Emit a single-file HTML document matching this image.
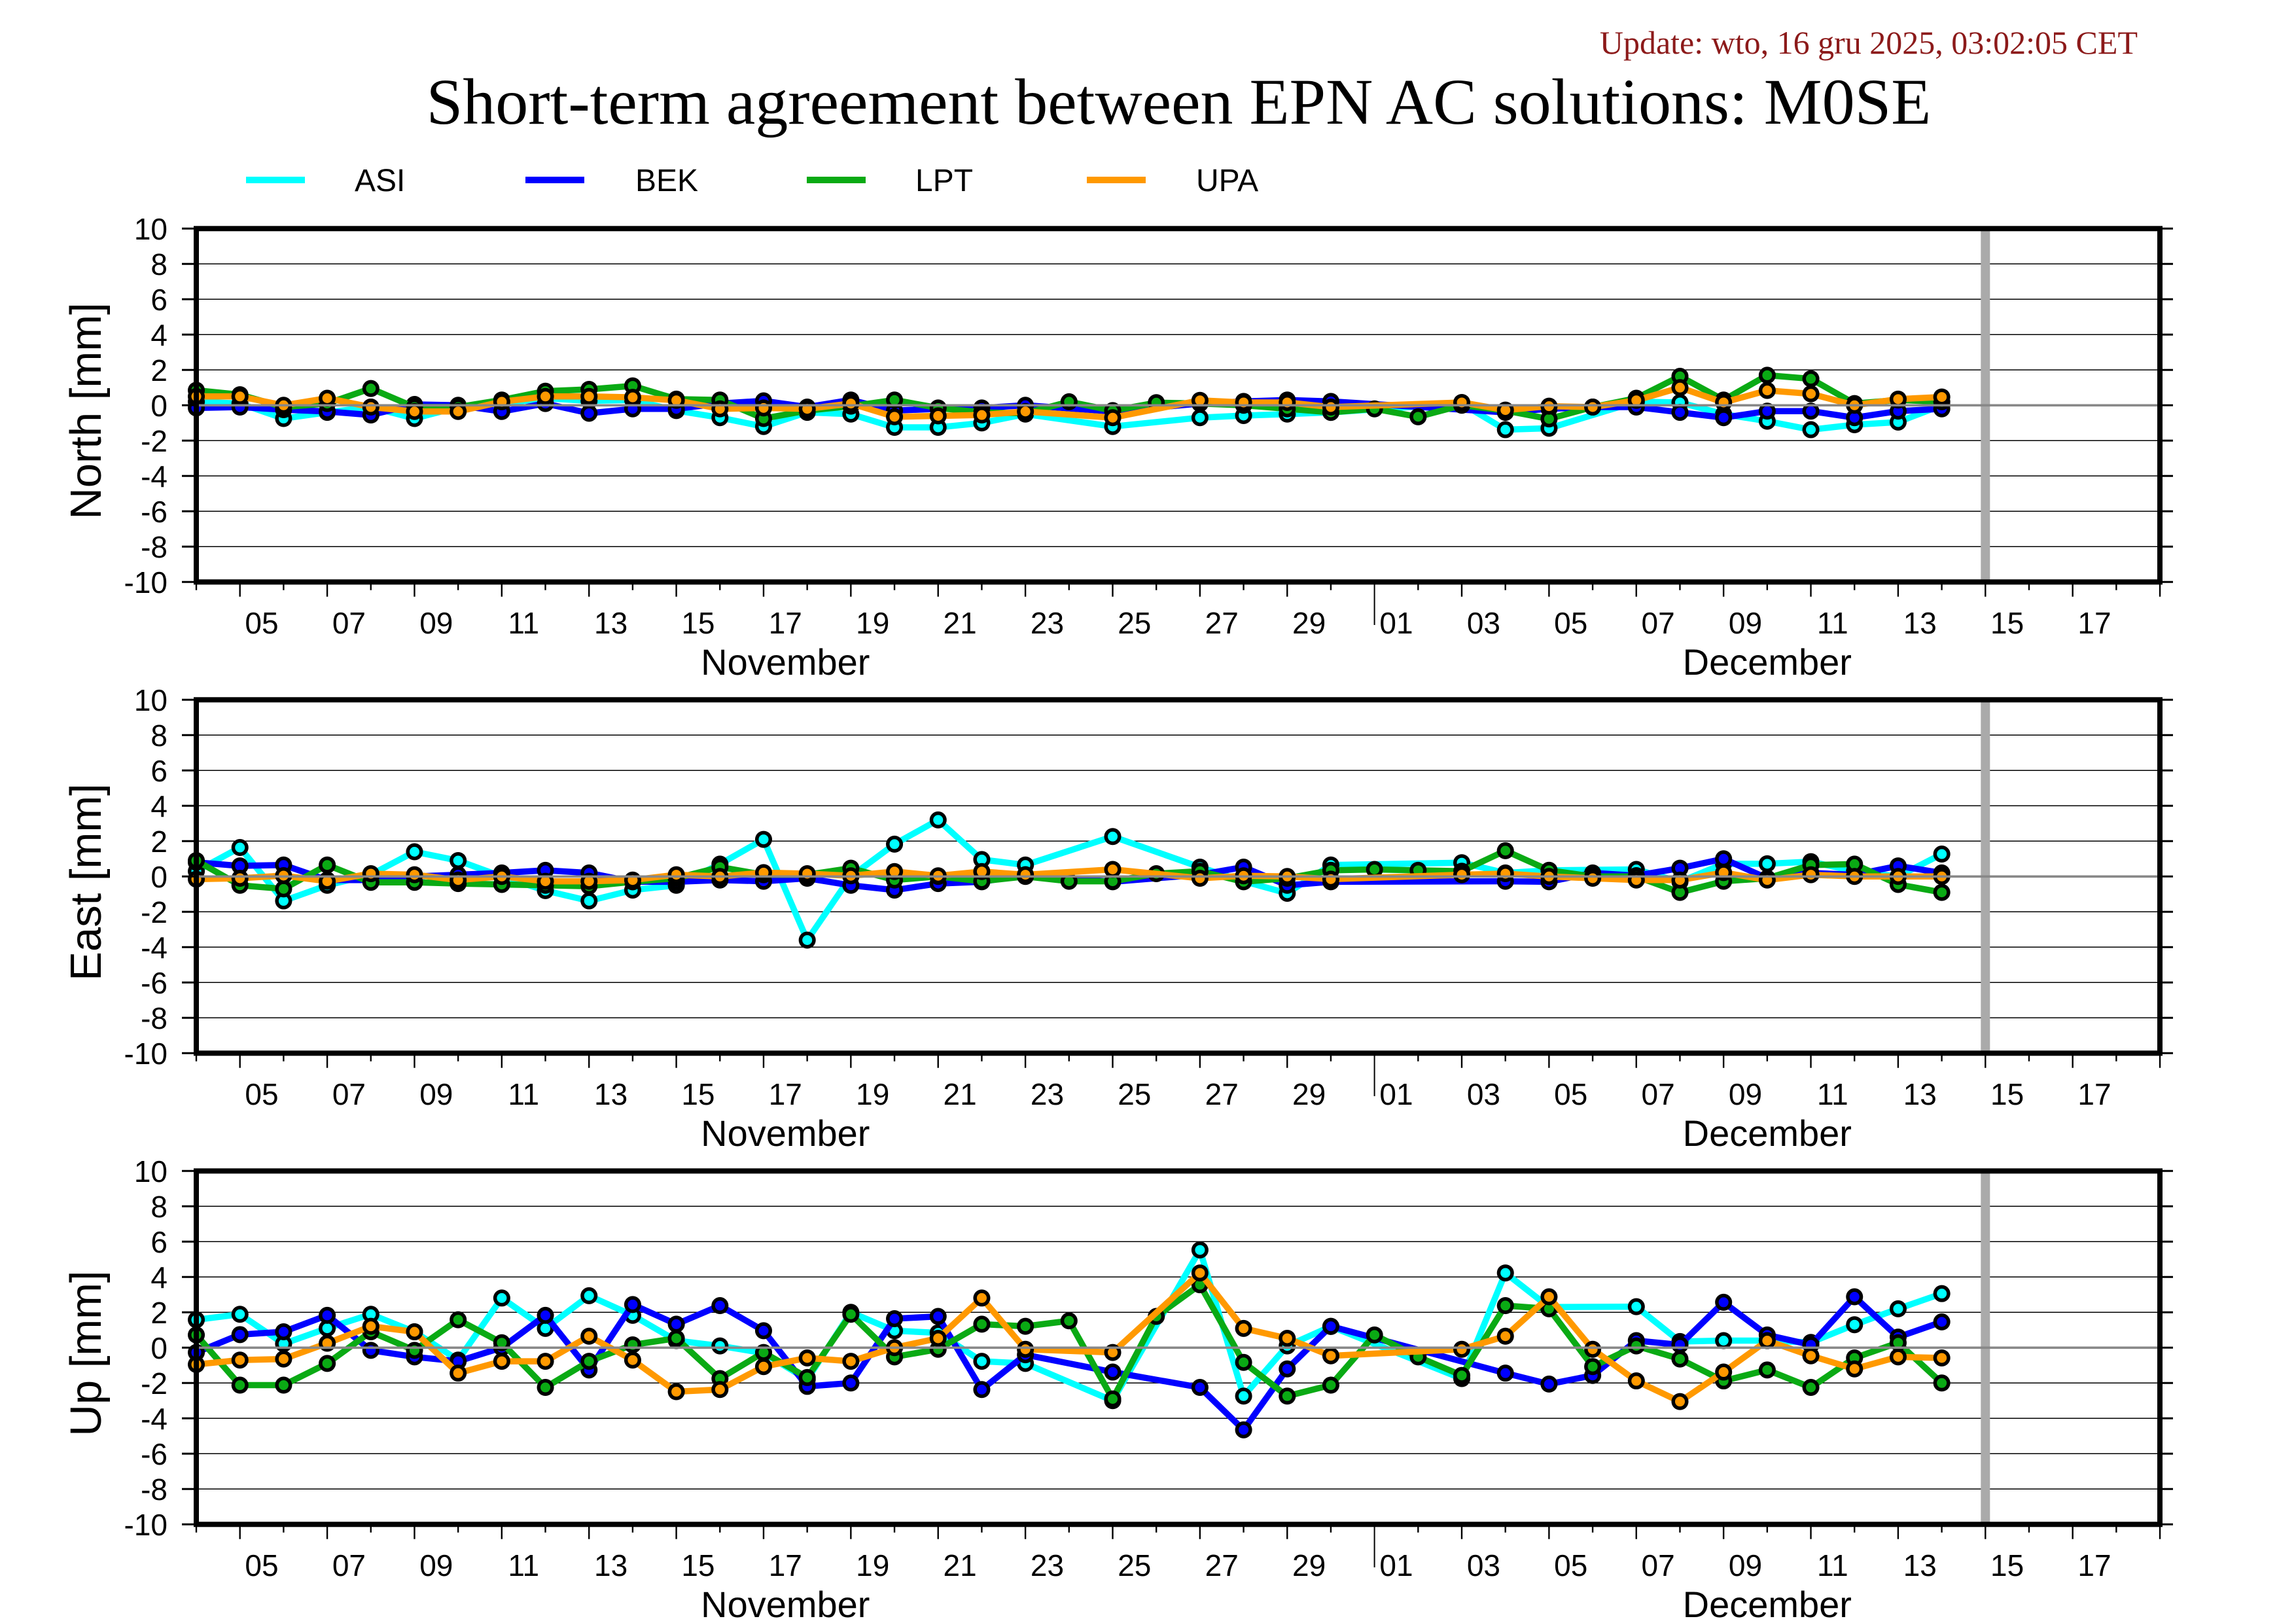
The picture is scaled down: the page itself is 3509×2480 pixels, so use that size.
<!DOCTYPE html>
<html><head><meta charset="utf-8"><style>
html,body{margin:0;padding:0;background:#fff;overflow:hidden}
svg{display:block}
.t{font-family:"Liberation Sans",sans-serif;fill:#000}
</style></head><body>
<svg xmlns="http://www.w3.org/2000/svg" xmlns:xlink="http://www.w3.org/1999/xlink" width="3509" height="2480" viewBox="0 0 3509 2480">
<defs>
<g id="bg">
<path d="M300 403.3H3301M300 457.3H3301M300 511.3H3301M300 565.3H3301M300 619.3H3301M300 673.3H3301M300 727.3H3301M300 781.3H3301M300 835.3H3301" stroke="#000" stroke-width="1.5" fill="none"/>
<rect x="3027.3" y="349.3" width="14" height="540" fill="#aaaaaa"/>
</g>
<g id="fg">
<path d="M300 619.3H3301" stroke="#888" stroke-width="3.6" fill="none"/>
<path d="M278 349.3h22M278 403.3h22M278 457.3h22M278 511.3h22M278 565.3h22M278 619.3h22M278 673.3h22M278 727.3h22M278 781.3h22M278 835.3h22M278 889.3h22M3301 349.3h20M3301 403.3h20M3301 457.3h20M3301 511.3h20M3301 565.3h20M3301 619.3h20M3301 673.3h20M3301 727.3h20M3301 781.3h20M3301 835.3h20M3301 889.3h20" stroke="#000" stroke-width="3" fill="none"/>
<rect x="300" y="349.3" width="3001" height="540" fill="none" stroke="#000" stroke-width="8"/>
<path transform="translate(300 0) scale(66.69 1)" vector-effect="non-scaling-stroke" stroke="#000" stroke-width="2.4" fill="none" d="M0 892.8v9M1 892.8v19M2 892.8v9M3 892.8v19M4 892.8v9M5 892.8v19M6 892.8v9M7 892.8v19M8 892.8v9M9 892.8v19M10 892.8v9M11 892.8v19M12 892.8v9M13 892.8v19M14 892.8v9M15 892.8v19M16 892.8v9M17 892.8v19M18 892.8v9M19 892.8v19M20 892.8v9M21 892.8v19M22 892.8v9M23 892.8v19M24 892.8v9M25 892.8v19M26 892.8v9M28 892.8v9M29 892.8v19M30 892.8v9M31 892.8v19M32 892.8v9M33 892.8v19M34 892.8v9M35 892.8v19M36 892.8v9M37 892.8v19M38 892.8v9M39 892.8v19M40 892.8v9M41 892.8v19M42 892.8v9M43 892.8v19M44 892.8v9M45 892.8v19"/>
<path d="M2100.6 892.8V955" stroke="#000" stroke-width="2" fill="none"/>
</g>

<path id="nAd" fill="none" stroke-linecap="round" vector-effect="non-scaling-stroke" d="M0 .2h.001M1 .1h.001M2 -.75h.001M3 -.4h.001M4 -.1h.001M5 -.75h.001M6 -.1h.001M7 .1h.001M8 .4h.001M9 .25h.001M10 .3h.001M11 -.3h.001M12 -.7h.001M13 -1.2h.001M14 -.4h.001M15 -.5h.001M16 -1.25h.001M17 -1.25h.001M18 -1h.001M19 -.5h.001M21 -1.2h.001M23 -.7h.001M24 -.58h.001M25 -.5h.001M26 -.4h.001M29 .1h.001M30 -1.38h.001M31 -1.3h.001M33 .2h.001M34 .16h.001M35 -.5h.001M36 -.9h.001M37 -1.38h.001M38 -1.1h.001M39 -.95h.001M40 0h.001"/>
<path id="nBd" fill="none" stroke-linecap="round" vector-effect="non-scaling-stroke" d="M0 -.15h.001M1 -.1h.001M2 -.25h.001M3 -.35h.001M4 -.55h.001M5 .05h.001M6 0h.001M7 -.35h.001M8 .1h.001M9 -.45h.001M10 -.2h.001M11 -.2h.001M12 .1h.001M13 .25h.001M14 -.1h.001M15 .3h.001M16 -.3h.001M17 -.2h.001M18 -.15h.001M19 0h.001M21 -.35h.001M23 .1h.001M24 .22h.001M25 .3h.001M26 .22h.001M30 -.4h.001M31 -.2h.001M32 -.1h.001M33 -.1h.001M34 -.4h.001M35 -.7h.001M36 -.33h.001M37 -.33h.001M38 -.7h.001M39 -.33h.001M40 -.2h.001"/>
<path id="nLd" fill="none" stroke-linecap="round" vector-effect="non-scaling-stroke" d="M0 .85h.001M1 .6h.001M2 -.1h.001M3 .1h.001M4 .95h.001M5 -.1h.001M6 -.1h.001M7 .3h.001M8 .8h.001M9 .9h.001M10 1.1h.001M11 .35h.001M12 .3h.001M13 -.75h.001M14 -.3h.001M15 -.05h.001M16 .3h.001M17 -.15h.001M18 -.4h.001M19 -.45h.001M20 .2h.001M21 -.3h.001M22 .15h.001M23 .1h.001M24 0h.001M25 -.2h.001M26 -.4h.001M27 -.2h.001M28 -.65h.001M29 0h.001M30 -.3h.001M31 -.77h.001M32 -.1h.001M33 .4h.001M34 1.64h.001M35 .3h.001M36 1.7h.001M37 1.5h.001M38 .1h.001M39 .3h.001M40 .2h.001"/>
<path id="nOd" fill="none" stroke-linecap="round" vector-effect="non-scaling-stroke" d="M0 .5h.001M1 .5h.001M2 0h.001M3 .4h.001M4 -.1h.001M5 -.35h.001M6 -.35h.001M7 .2h.001M8 .5h.001M9 .5h.001M10 .45h.001M11 .28h.001M12 -.2h.001M13 -.15h.001M14 -.2h.001M15 .1h.001M16 -.65h.001M17 -.6h.001M18 -.55h.001M19 -.35h.001M21 -.7h.001M23 .28h.001M24 .16h.001M25 .16h.001M26 -.1h.001M29 .16h.001M30 -.27h.001M31 -.05h.001M32 -.1h.001M33 .28h.001M34 1h.001M35 .16h.001M36 .84h.001M37 .65h.001M38 0h.001M39 .35h.001M40 .47h.001"/>

<path id="eAd" fill="none" stroke-linecap="round" vector-effect="non-scaling-stroke" d="M0 .3h.001M1 1.64h.001M2 -1.38h.001M3 -.5h.001M4 .1h.001M5 1.4h.001M6 .9h.001M7 0h.001M8 -.8h.001M9 -1.38h.001M10 -.77h.001M11 -.5h.001M12 .7h.001M13 2.1h.001M14 -3.6h.001M15 0h.001M16 1.83h.001M17 3.2h.001M18 .96h.001M19 .65h.001M21 2.26h.001M23 .53h.001M24 -.27h.001M25 -.95h.001M26 .65h.001M29 .78h.001M30 .2h.001M31 .35h.001M33 .4h.001M34 -.3h.001M35 .72h.001M36 .72h.001M37 .84h.001M38 .3h.001M39 0h.001M40 1.27h.001"/>
<path id="eBd" fill="none" stroke-linecap="round" vector-effect="non-scaling-stroke" d="M0 .8h.001M1 .6h.001M2 .65h.001M3 -.2h.001M4 -.2h.001M5 0h.001M6 .1h.001M7 .2h.001M8 .35h.001M9 .2h.001M10 -.3h.001M11 -.3h.001M12 -.2h.001M13 -.27h.001M14 -.1h.001M15 -.5h.001M16 -.77h.001M17 -.4h.001M18 -.3h.001M19 .1h.001M21 -.3h.001M23 .1h.001M24 .53h.001M25 -.5h.001M26 -.3h.001M30 -.27h.001M31 -.3h.001M32 .2h.001M33 .05h.001M34 .47h.001M35 1h.001M36 -.1h.001M37 .2h.001M38 .1h.001M39 .6h.001M40 .2h.001"/>
<path id="eLd" fill="none" stroke-linecap="round" vector-effect="non-scaling-stroke" d="M0 .9h.001M1 -.5h.001M2 -.7h.001M3 .65h.001M4 -.33h.001M5 -.33h.001M6 -.4h.001M7 -.45h.001M8 -.5h.001M9 -.55h.001M10 -.3h.001M11 -.1h.001M12 .53h.001M13 .1h.001M14 .1h.001M15 .47h.001M16 -.2h.001M17 0h.001M18 -.27h.001M19 0h.001M20 -.27h.001M21 -.27h.001M22 .16h.001M23 .3h.001M24 -.3h.001M25 -.1h.001M26 .35h.001M27 .4h.001M28 .35h.001M29 .3h.001M30 1.46h.001M31 .35h.001M32 0h.001M33 0h.001M34 -.9h.001M35 -.27h.001M36 -.1h.001M37 .65h.001M38 .7h.001M39 -.45h.001M40 -.9h.001"/>
<path id="eOd" fill="none" stroke-linecap="round" vector-effect="non-scaling-stroke" d="M0 -.15h.001M1 -.1h.001M2 .05h.001M3 -.27h.001M4 .16h.001M5 .1h.001M6 -.2h.001M7 0h.001M8 -.27h.001M9 -.27h.001M10 -.2h.001M11 .1h.001M12 0h.001M13 .22h.001M14 .16h.001M15 .04h.001M16 .28h.001M17 .04h.001M18 .28h.001M19 .1h.001M21 .4h.001M23 -.1h.001M24 .04h.001M25 0h.001M26 -.15h.001M29 .1h.001M30 .16h.001M31 0h.001M32 -.1h.001M33 -.2h.001M34 -.2h.001M35 .22h.001M36 -.2h.001M37 .1h.001M38 0h.001M39 0h.001M40 0h.001"/>

<path id="uAd" fill="none" stroke-linecap="round" vector-effect="non-scaling-stroke" d="M0 1.58h.001M1 1.89h.001M2 .22h.001M3 1.1h.001M4 1.89h.001M5 .9h.001M6 -.7h.001M7 2.81h.001M8 1.09h.001M9 2.94h.001M10 1.83h.001M11 .4h.001M12 .1h.001M13 -.3h.001M14 -1.8h.001M15 2h.001M16 .96h.001M17 .84h.001M18 -.77h.001M19 -.89h.001M21 -3h.001M23 5.53h.001M24 -2.74h.001M25 .1h.001M26 1.2h.001M29 -1.75h.001M30 4.23h.001M31 2.3h.001M33 2.32h.001M34 .35h.001M35 .4h.001M36 .4h.001M37 .3h.001M38 1.3h.001M39 2.2h.001M40 3.06h.001"/>
<path id="uBd" fill="none" stroke-linecap="round" vector-effect="non-scaling-stroke" d="M0 -.27h.001M1 .74h.001M2 .9h.001M3 1.83h.001M4 -.15h.001M5 -.52h.001M6 -.77h.001M7 0h.001M8 1.83h.001M9 -1.26h.001M10 2.44h.001M11 1.33h.001M12 2.38h.001M13 .96h.001M14 -2.19h.001M15 -2h.001M16 1.64h.001M17 1.77h.001M18 -2.37h.001M19 -.4h.001M21 -1.38h.001M23 -2.25h.001M24 -4.65h.001M25 -1.2h.001M26 1.21h.001M30 -1.44h.001M31 -2.06h.001M32 -1.57h.001M33 .4h.001M34 .16h.001M35 2.57h.001M36 .72h.001M37 .16h.001M38 2.88h.001M39 .6h.001M40 1.46h.001"/>
<path id="uLd" fill="none" stroke-linecap="round" vector-effect="non-scaling-stroke" d="M0 .72h.001M1 -2.12h.001M2 -2.12h.001M3 -.89h.001M4 .9h.001M5 -.15h.001M6 1.58h.001M7 .28h.001M8 -2.25h.001M9 -.77h.001M10 .16h.001M11 .53h.001M12 -1.75h.001M13 -.27h.001M14 -1.69h.001M15 1.89h.001M16 -.52h.001M17 -.09h.001M18 1.33h.001M19 1.21h.001M20 1.52h.001M21 -2.9h.001M22 1.77h.001M23 3.56h.001M24 -.83h.001M25 -2.74h.001M26 -2.12h.001M27 .72h.001M28 -.52h.001M29 -1.57h.001M30 2.38h.001M31 2.2h.001M32 -1.07h.001M33 .1h.001M34 -.64h.001M35 -1.88h.001M36 -1.26h.001M37 -2.25h.001M38 -.58h.001M39 .28h.001M40 -2h.001"/>
<path id="uOd" fill="none" stroke-linecap="round" vector-effect="non-scaling-stroke" d="M0 -.95h.001M1 -.7h.001M2 -.64h.001M3 .25h.001M4 1.21h.001M5 .9h.001M6 -1.44h.001M7 -.77h.001M8 -.77h.001M9 .65h.001M10 -.7h.001M11 -2.49h.001M12 -2.37h.001M13 -1.07h.001M14 -.58h.001M15 -.77h.001M16 0h.001M17 .53h.001M18 2.81h.001M19 -.09h.001M21 -.27h.001M23 4.23h.001M24 1.09h.001M25 .53h.001M26 -.46h.001M29 -.09h.001M30 .65h.001M31 2.88h.001M32 -.09h.001M33 -1.88h.001M34 -3.05h.001M35 -1.38h.001M36 .4h.001M37 -.46h.001M38 -1.2h.001M39 -.52h.001M40 -.58h.001"/>
</defs>

<rect width="3509" height="2480" fill="#fff"/>

<text x="3267" y="82" font-family="'Liberation Serif',serif" font-size="50" fill="#8c1a1a" text-anchor="end">Update: wto, 16 gru 2025, 03:02:05 CET</text>
<text x="1801.5" y="189" font-family="'Liberation Serif',serif" font-size="100" fill="#000" text-anchor="middle">Short-term agreement between EPN AC solutions: M0SE</text>

<path d="M376 275h90" stroke="#00ffff" stroke-width="10"/>
<path d="M803 275h90" stroke="#0000ff" stroke-width="10"/>
<path d="M1233 275h90" stroke="#0aaa14" stroke-width="10"/>
<path d="M1661 275h90" stroke="#ff9900" stroke-width="10"/>
<text class="t" x="542" y="292" font-size="48">ASI</text>
<text class="t" x="971" y="292" font-size="48">BEK</text>
<text class="t" x="1399" y="292" font-size="48">LPT</text>
<text class="t" x="1828" y="292" font-size="48">UPA</text>

<!-- NORTH -->
<use xlink:href="#bg" href="#bg"/>
<g transform="translate(300 619.3) scale(66.69 -27)">
<path vector-effect="non-scaling-stroke" fill="none" stroke="#00ffff" stroke-width="9.5" stroke-linejoin="round" d="M0 .2L1 .1L2 -.75L3 -.4L4 -.1L5 -.75L6 -.1L7 .1L8 .4L9 .25L10 .3L11 -.3L12 -.7L13 -1.2L14 -.4L15 -.5L16 -1.25L17 -1.25L18 -1L19 -.5L21 -1.2L23 -.7L24 -.58L25 -.5L26 -.4L29 .1L30 -1.38L31 -1.3L33 .2L34 .16L35 -.5L36 -.9L37 -1.38L38 -1.1L39 -.95L40 0"/>
<use xlink:href="#nAd" href="#nAd" stroke="#000" stroke-width="26"/><use xlink:href="#nAd" href="#nAd" stroke="#00ffff" stroke-width="15"/>
<path vector-effect="non-scaling-stroke" fill="none" stroke="#0000ff" stroke-width="9.5" stroke-linejoin="round" d="M0 -.15L1 -.1L2 -.25L3 -.35L4 -.55L5 .05L6 0L7 -.35L8 .1L9 -.45L10 -.2L11 -.2L12 .1L13 .25L14 -.1L15 .3L16 -.3L17 -.2L18 -.15L19 0L21 -.35L23 .1L24 .22L25 .3L26 .22L30 -.4L31 -.2L32 -.1L33 -.1L34 -.4L35 -.7L36 -.33L37 -.33L38 -.7L39 -.33L40 -.2"/>
<use xlink:href="#nBd" href="#nBd" stroke="#000" stroke-width="26"/><use xlink:href="#nBd" href="#nBd" stroke="#0000ff" stroke-width="15"/>
<path vector-effect="non-scaling-stroke" fill="none" stroke="#0aaa14" stroke-width="9.5" stroke-linejoin="round" d="M0 .85L1 .6L2 -.1L3 .1L4 .95L5 -.1L6 -.1L7 .3L8 .8L9 .9L10 1.1L11 .35L12 .3L13 -.75L14 -.3L15 -.05L16 .3L17 -.15L18 -.4L19 -.45L20 .2L21 -.3L22 .15L23 .1L24 0L25 -.2L26 -.4L27 -.2L28 -.65L29 0L30 -.3L31 -.77L32 -.1L33 .4L34 1.64L35 .3L36 1.7L37 1.5L38 .1L39 .3L40 .2"/>
<use xlink:href="#nLd" href="#nLd" stroke="#000" stroke-width="26"/><use xlink:href="#nLd" href="#nLd" stroke="#0aaa14" stroke-width="15"/>
<path vector-effect="non-scaling-stroke" fill="none" stroke="#ff9900" stroke-width="9.5" stroke-linejoin="round" d="M0 .5L1 .5L2 0L3 .4L4 -.1L5 -.35L6 -.35L7 .2L8 .5L9 .5L10 .45L11 .28L12 -.2L13 -.15L14 -.2L15 .1L16 -.65L17 -.6L18 -.55L19 -.35L21 -.7L23 .28L24 .16L25 .16L26 -.1L29 .16L30 -.27L31 -.05L32 -.1L33 .28L34 1L35 .16L36 .84L37 .65L38 0L39 .35L40 .47"/>
<use xlink:href="#nOd" href="#nOd" stroke="#000" stroke-width="26"/><use xlink:href="#nOd" href="#nOd" stroke="#ff9900" stroke-width="15"/>
</g>
<use xlink:href="#fg" href="#fg"/>

<!-- EAST -->
<use xlink:href="#bg" href="#bg" y="720"/>
<g transform="translate(300 1339.3) scale(66.69 -27)">
<path vector-effect="non-scaling-stroke" fill="none" stroke="#00ffff" stroke-width="9.5" stroke-linejoin="round" d="M0 .3L1 1.64L2 -1.38L3 -.5L4 .1L5 1.4L6 .9L7 0L8 -.8L9 -1.38L10 -.77L11 -.5L12 .7L13 2.1L14 -3.6L15 0L16 1.83L17 3.2L18 .96L19 .65L21 2.26L23 .53L24 -.27L25 -.95L26 .65L29 .78L30 .2L31 .35L33 .4L34 -.3L35 .72L36 .72L37 .84L38 .3L39 0L40 1.27"/>
<use xlink:href="#eAd" href="#eAd" stroke="#000" stroke-width="26"/><use xlink:href="#eAd" href="#eAd" stroke="#00ffff" stroke-width="15"/>
<path vector-effect="non-scaling-stroke" fill="none" stroke="#0000ff" stroke-width="9.5" stroke-linejoin="round" d="M0 .8L1 .6L2 .65L3 -.2L4 -.2L5 0L6 .1L7 .2L8 .35L9 .2L10 -.3L11 -.3L12 -.2L13 -.27L14 -.1L15 -.5L16 -.77L17 -.4L18 -.3L19 .1L21 -.3L23 .1L24 .53L25 -.5L26 -.3L30 -.27L31 -.3L32 .2L33 .05L34 .47L35 1L36 -.1L37 .2L38 .1L39 .6L40 .2"/>
<use xlink:href="#eBd" href="#eBd" stroke="#000" stroke-width="26"/><use xlink:href="#eBd" href="#eBd" stroke="#0000ff" stroke-width="15"/>
<path vector-effect="non-scaling-stroke" fill="none" stroke="#0aaa14" stroke-width="9.5" stroke-linejoin="round" d="M0 .9L1 -.5L2 -.7L3 .65L4 -.33L5 -.33L6 -.4L7 -.45L8 -.5L9 -.55L10 -.3L11 -.1L12 .53L13 .1L14 .1L15 .47L16 -.2L17 0L18 -.27L19 0L20 -.27L21 -.27L22 .16L23 .3L24 -.3L25 -.1L26 .35L27 .4L28 .35L29 .3L30 1.46L31 .35L32 0L33 0L34 -.9L35 -.27L36 -.1L37 .65L38 .7L39 -.45L40 -.9"/>
<use xlink:href="#eLd" href="#eLd" stroke="#000" stroke-width="26"/><use xlink:href="#eLd" href="#eLd" stroke="#0aaa14" stroke-width="15"/>
<path vector-effect="non-scaling-stroke" fill="none" stroke="#ff9900" stroke-width="9.5" stroke-linejoin="round" d="M0 -.15L1 -.1L2 .05L3 -.27L4 .16L5 .1L6 -.2L7 0L8 -.27L9 -.27L10 -.2L11 .1L12 0L13 .22L14 .16L15 .04L16 .28L17 .04L18 .28L19 .1L21 .4L23 -.1L24 .04L25 0L26 -.15L29 .1L30 .16L31 0L32 -.1L33 -.2L34 -.2L35 .22L36 -.2L37 .1L38 0L39 0L40 0"/>
<use xlink:href="#eOd" href="#eOd" stroke="#000" stroke-width="26"/><use xlink:href="#eOd" href="#eOd" stroke="#ff9900" stroke-width="15"/>
</g>
<use xlink:href="#fg" href="#fg" y="720"/>

<!-- UP -->
<use xlink:href="#bg" href="#bg" y="1440"/>
<g transform="translate(300 2059.3) scale(66.69 -27)">
<path vector-effect="non-scaling-stroke" fill="none" stroke="#00ffff" stroke-width="9.5" stroke-linejoin="round" d="M0 1.58L1 1.89L2 .22L3 1.1L4 1.89L5 .9L6 -.7L7 2.81L8 1.09L9 2.94L10 1.83L11 .4L12 .1L13 -.3L14 -1.8L15 2L16 .96L17 .84L18 -.77L19 -.89L21 -3L23 5.53L24 -2.74L25 .1L26 1.2L29 -1.75L30 4.23L31 2.3L33 2.32L34 .35L35 .4L36 .4L37 .3L38 1.3L39 2.2L40 3.06"/>
<use xlink:href="#uAd" href="#uAd" stroke="#000" stroke-width="26"/><use xlink:href="#uAd" href="#uAd" stroke="#00ffff" stroke-width="15"/>
<path vector-effect="non-scaling-stroke" fill="none" stroke="#0000ff" stroke-width="9.5" stroke-linejoin="round" d="M0 -.27L1 .74L2 .9L3 1.83L4 -.15L5 -.52L6 -.77L7 0L8 1.83L9 -1.26L10 2.44L11 1.33L12 2.38L13 .96L14 -2.19L15 -2L16 1.64L17 1.77L18 -2.37L19 -.4L21 -1.38L23 -2.25L24 -4.65L25 -1.2L26 1.21L30 -1.44L31 -2.06L32 -1.57L33 .4L34 .16L35 2.57L36 .72L37 .16L38 2.88L39 .6L40 1.46"/>
<use xlink:href="#uBd" href="#uBd" stroke="#000" stroke-width="26"/><use xlink:href="#uBd" href="#uBd" stroke="#0000ff" stroke-width="15"/>
<path vector-effect="non-scaling-stroke" fill="none" stroke="#0aaa14" stroke-width="9.5" stroke-linejoin="round" d="M0 .72L1 -2.12L2 -2.12L3 -.89L4 .9L5 -.15L6 1.58L7 .28L8 -2.25L9 -.77L10 .16L11 .53L12 -1.75L13 -.27L14 -1.69L15 1.89L16 -.52L17 -.09L18 1.33L19 1.21L20 1.52L21 -2.9L22 1.77L23 3.56L24 -.83L25 -2.74L26 -2.12L27 .72L28 -.52L29 -1.57L30 2.38L31 2.2L32 -1.07L33 .1L34 -.64L35 -1.88L36 -1.26L37 -2.25L38 -.58L39 .28L40 -2"/>
<use xlink:href="#uLd" href="#uLd" stroke="#000" stroke-width="26"/><use xlink:href="#uLd" href="#uLd" stroke="#0aaa14" stroke-width="15"/>
<path vector-effect="non-scaling-stroke" fill="none" stroke="#ff9900" stroke-width="9.5" stroke-linejoin="round" d="M0 -.95L1 -.7L2 -.64L3 .25L4 1.21L5 .9L6 -1.44L7 -.77L8 -.77L9 .65L10 -.7L11 -2.49L12 -2.37L13 -1.07L14 -.58L15 -.77L16 0L17 .53L18 2.81L19 -.09L21 -.27L23 4.23L24 1.09L25 .53L26 -.46L29 -.09L30 .65L31 2.88L32 -.09L33 -1.88L34 -3.05L35 -1.38L36 .4L37 -.46L38 -1.2L39 -.52L40 -.58"/>
<use xlink:href="#uOd" href="#uOd" stroke="#000" stroke-width="26"/><use xlink:href="#uOd" href="#uOd" stroke="#ff9900" stroke-width="15"/>
</g>
<use xlink:href="#fg" href="#fg" y="1440"/>

<!-- Y tick labels -->
<g class="t" font-size="46" text-anchor="end">
<text x="256" y="365.8">10</text><text x="256" y="419.8">8</text><text x="256" y="473.8">6</text><text x="256" y="527.8">4</text><text x="256" y="581.8">2</text><text x="256" y="635.8">0</text><text x="256" y="689.8">-2</text><text x="256" y="743.8">-4</text><text x="256" y="797.8">-6</text><text x="256" y="851.8">-8</text><text x="256" y="905.8">-10</text>
<text x="256" y="1085.8">10</text><text x="256" y="1139.8">8</text><text x="256" y="1193.8">6</text><text x="256" y="1247.8">4</text><text x="256" y="1301.8">2</text><text x="256" y="1355.8">0</text><text x="256" y="1409.8">-2</text><text x="256" y="1463.8">-4</text><text x="256" y="1517.8">-6</text><text x="256" y="1571.8">-8</text><text x="256" y="1625.8">-10</text>
<text x="256" y="1805.8">10</text><text x="256" y="1859.8">8</text><text x="256" y="1913.8">6</text><text x="256" y="1967.8">4</text><text x="256" y="2021.8">2</text><text x="256" y="2075.8">0</text><text x="256" y="2129.8">-2</text><text x="256" y="2183.8">-4</text><text x="256" y="2237.8">-6</text><text x="256" y="2291.8">-8</text><text x="256" y="2345.8">-10</text>
</g>

<!-- Y axis titles -->
<g class="t" font-size="67" text-anchor="middle">
<text transform="translate(154 628) rotate(-90)">North [mm]</text>
<text transform="translate(154 1348) rotate(-90)">East [mm]</text>
<text transform="translate(154 2068) rotate(-90)">Up [mm]</text>
</g>

<!-- X tick labels -->
<g class="t" font-size="46" text-anchor="middle">
<text x="400" y="968">05</text><text x="533.4" y="968">07</text><text x="666.8" y="968">09</text><text x="800.2" y="968">11</text><text x="933.6" y="968">13</text><text x="1066.9" y="968">15</text><text x="1200.3" y="968">17</text><text x="1333.7" y="968">19</text><text x="1467.1" y="968">21</text><text x="1600.5" y="968">23</text><text x="1733.8" y="968">25</text><text x="1867.2" y="968">27</text><text x="2000.6" y="968">29</text><text x="2134" y="968">01</text><text x="2267.4" y="968">03</text><text x="2400.7" y="968">05</text><text x="2534.1" y="968">07</text><text x="2667.5" y="968">09</text><text x="2800.9" y="968">11</text><text x="2934.3" y="968">13</text><text x="3067.6" y="968">15</text><text x="3201" y="968">17</text>
<text x="400" y="1688">05</text><text x="533.4" y="1688">07</text><text x="666.8" y="1688">09</text><text x="800.2" y="1688">11</text><text x="933.6" y="1688">13</text><text x="1066.9" y="1688">15</text><text x="1200.3" y="1688">17</text><text x="1333.7" y="1688">19</text><text x="1467.1" y="1688">21</text><text x="1600.5" y="1688">23</text><text x="1733.8" y="1688">25</text><text x="1867.2" y="1688">27</text><text x="2000.6" y="1688">29</text><text x="2134" y="1688">01</text><text x="2267.4" y="1688">03</text><text x="2400.7" y="1688">05</text><text x="2534.1" y="1688">07</text><text x="2667.5" y="1688">09</text><text x="2800.9" y="1688">11</text><text x="2934.3" y="1688">13</text><text x="3067.6" y="1688">15</text><text x="3201" y="1688">17</text>
<text x="400" y="2408">05</text><text x="533.4" y="2408">07</text><text x="666.8" y="2408">09</text><text x="800.2" y="2408">11</text><text x="933.6" y="2408">13</text><text x="1066.9" y="2408">15</text><text x="1200.3" y="2408">17</text><text x="1333.7" y="2408">19</text><text x="1467.1" y="2408">21</text><text x="1600.5" y="2408">23</text><text x="1733.8" y="2408">25</text><text x="1867.2" y="2408">27</text><text x="2000.6" y="2408">29</text><text x="2134" y="2408">01</text><text x="2267.4" y="2408">03</text><text x="2400.7" y="2408">05</text><text x="2534.1" y="2408">07</text><text x="2667.5" y="2408">09</text><text x="2800.9" y="2408">11</text><text x="2934.3" y="2408">13</text><text x="3067.6" y="2408">15</text><text x="3201" y="2408">17</text>
</g>

<!-- Month labels -->
<g class="t" font-size="56" text-anchor="middle">
<text x="1200.3" y="1031">November</text><text x="2700.8" y="1031">December</text>
<text x="1200.3" y="1751">November</text><text x="2700.8" y="1751">December</text>
<text x="1200.3" y="2471">November</text><text x="2700.8" y="2471">December</text>
</g>
</svg>
</body></html>
